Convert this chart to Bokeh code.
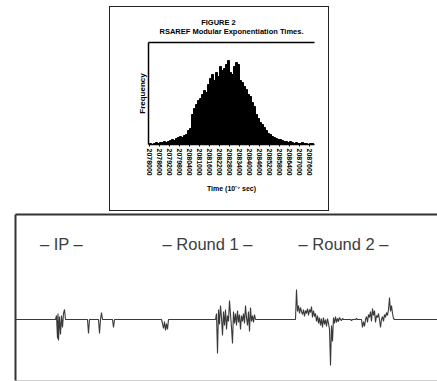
from bokeh.plotting import figure
from bokeh.models import LinearAxis, FixedTicker, Range1d, Label, Spacer, Title
from bokeh.layouts import column, row
from bokeh.embed import file_html
from bokeh.resources import INLINE

# ---------------- Figure 2 : histogram of exponentiation times ----------------
hist_start = 2078000
hist_step = 120
frequency = [1, 0, 1, 2, 1, 2, 2, 3, 2, 3, 4,
             5, 4, 6, 7,
             8, 7, 9, 10,
             14, 16, 30, 36, 40, 44, 46, 50, 54, 52, 60, 66, 70, 64, 72, 68,
             78, 74, 76, 80, 84, 72, 70, 78, 82, 80, 64, 62, 58, 55, 50, 48,
             42, 38, 30, 26, 22, 20, 17, 14, 11, 10, 8, 7, 6, 5, 5, 4,
             3, 3, 2, 3,
             2, 1, 2, 1, 1, 2, 1, 1, 0, 1, 1]
time_ticks = [2078000, 2078600, 2079200, 2079800, 2080400, 2081000, 2081600,
              2082200, 2082800, 2083400, 2084000, 2084600, 2085200, 2085800,
              2086400, 2087000, 2087600]
time_tick_labels = [str(t) for t in time_ticks]
figure_number = "FIGURE 2"
figure_caption = "RSAREF Modular Exponentiation Times."

# ---------------- power trace ----------------
sample = ([0, 40, 41, 42, 42.5, 43, 44, 45, 46, 47, 48, 49, 50,
           72, 73, 74,
           83, 84, 85, 86, 87,
           97, 98, 99]
          + list(range(146, 154))
          + list(range(200, 241))
          + list(range(280, 329))
          + [335, 336, 337, 340, 341, 342]
          + list(range(346, 380))
          + [422])
amplitude = ([0, 0, 4, -19, 6, -21, 3, -15, 4, -8, 6, 10, 0,
              0, -14, 0,
              0, -14, 0, 7, 0,
              0, -8, 0]
             + [0, -4, -9, -2, -11, -4, -10, 0]
             + [0, 6, -34, 10, -5, 14, 2, -16, 8, -6, 10, -10, 4, -2, 19, 5, -8, -24,
                8, -4, 6, -6, 9, -3, 5, -10, 4, -2, 6, -4, 14, 2, -6, 8, -12, 12, -2,
                4, -3, 5, 0]
             + [0, 30, 8, 14, 6, 12, 8, 5, 10, 3, 9, 6, 11, 4, 10, 7, 13, 2, 9, 3, 6,
                -2, 4, -4, 2, -6, 1, -8, 2, -5, 0, -7, 1, -4, -10, -46, -6, -22, 2,
                -4, 3, -3, 1, -2, 2, 0, -1, 1, 0]
             + [0, -1, 0, 0, 1, 0]
             + [0, -8, -2, -7, 0, 3, -3, 5, 2, 8, -2, 11, 4, 9, -3, 4, 2, 6, 0, -8,
                0, 3, -2, 5, 2, 7, 4, 10, 22, 8, 14, 6, 1, 0]
             + [0])
phase_names = ["\u2013 IP \u2013", "\u2013 Round 1 \u2013", "\u2013 Round 2 \u2013"]
phase_centers = [46, 192, 328]

FONT = "Liberation Sans"

# ---------------- histogram figure ----------------
h = figure(width=220, height=205, x_range=Range1d(2077940, 2087900), y_range=Range1d(0, 102),
           output_backend="svg", toolbar_location=None,
           min_border_left=38, min_border_right=16, min_border_top=35, min_border_bottom=68,
           styles={"border": "1px solid #222222", "box-sizing": "border-box"})
h.grid.visible = False
h.outline_line_color = None
lefts = [hist_start + i * hist_step for i in range(len(frequency))]
rights = [l + hist_step for l in lefts]
h.quad(left=lefts, right=rights, bottom=0, top=frequency,
       fill_color="black", line_color="black", line_width=1)

xa = h.xaxis[0]
xa.ticker = FixedTicker(ticks=time_ticks)
xa.major_label_overrides = {t: s for t, s in zip(time_ticks, time_tick_labels)}
xa.major_label_orientation = "vertical"
xa.major_label_text_font = FONT
xa.major_label_text_font_style = "bold"
xa.major_label_text_font_size = "7px"
xa.major_label_text_color = "black"
xa.major_label_standoff = 2
xa.major_tick_out = 2
xa.major_tick_in = 0
xa.minor_tick_line_color = None
xa.axis_line_width = 1.5
xa.axis_label = "Time (10\u207b\u2077 sec)"
xa.axis_label_text_font = FONT
xa.axis_label_text_font_style = "bold"
xa.axis_label_text_font_size = "7px"
xa.axis_label_text_color = "black"
xa.axis_label_standoff = 6

ya = h.yaxis[0]
ya.ticker = FixedTicker(ticks=[])
ya.major_tick_out = 0
ya.major_tick_in = 0
ya.minor_tick_line_color = None
ya.axis_line_width = 1.5
ya.axis_label = "Frequency"
ya.axis_label_text_font = FONT
ya.axis_label_text_font_style = "bold"
ya.axis_label_text_font_size = "8px"
ya.axis_label_text_color = "black"
ya.axis_label_standoff = 2

top_axis = LinearAxis(ticker=FixedTicker(ticks=[]), major_label_text_font_size="0px",
                      major_tick_out=0, major_tick_in=0, minor_tick_line_color=None,
                      axis_line_width=1.5, major_label_standoff=0)
h.add_layout(top_axis, "above")
h.add_layout(Title(text="\u00a0" * 20 + figure_number + "\n" + figure_caption, align="center",
                   text_font=FONT, text_font_style="bold", text_font_size="7.5px",
                   text_line_height=0.95, text_color="black", standoff=13), "above")

# ---------------- trace figure ----------------
s = figure(width=437, height=170, x_range=Range1d(0, 422), y_range=Range1d(-61, 105),
           x_axis_type=None, y_axis_type=None, output_backend="svg", toolbar_location=None,
           min_border_left=15, min_border_right=0, min_border_top=3, min_border_bottom=1)
s.grid.visible = False
s.outline_line_color = None
s.line(sample, amplitude, line_color="#3a3a3a", line_width=1.1)

def frame_axis(color, width):
    return LinearAxis(ticker=FixedTicker(ticks=[]), major_label_text_font_size="0px",
                      major_tick_out=0, major_tick_in=0, minor_tick_line_color=None,
                      axis_line_color=color, axis_line_width=width, major_label_standoff=0)

s.add_layout(frame_axis("#333333", 2), "left")
s.add_layout(frame_axis("#333333", 2), "above")
s.add_layout(frame_axis("#d0d0d0", 1), "below")

for name, c in zip(phase_names, phase_centers):
    s.add_layout(Label(x=c, y=76, text=name, text_align="center", text_baseline="alphabetic",
                       text_font=FONT, text_font_size="16.5px", text_color="#3d3d3d"))

layout = column(Spacer(width=10, height=6),
                row(Spacer(width=109, height=205), h, spacing=0),
                s, spacing=0)
open("out.html", "w").write(file_html(layout, INLINE))
